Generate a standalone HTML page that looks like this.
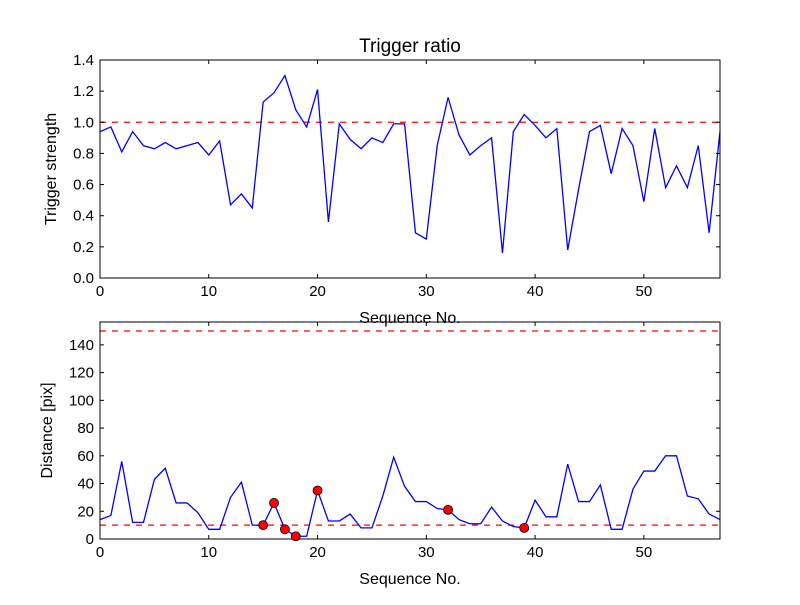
<!DOCTYPE html>
<html><head><meta charset="utf-8"><style>
body{margin:0;background:#fff;}
svg{font-family:"Liberation Sans",sans-serif;}
</style></head><body>
<svg id="c" width="800" height="600" viewBox="0 0 800 600">
<rect width="800" height="600" fill="#fff"/>
</svg>
<script>
const seq = Array.from({length:58},(_,i)=>i);
const triggerRatio=[0.94,0.97,0.81,0.94,0.85,0.83,0.87,0.83,0.85,0.87,0.79,0.88,0.47,0.54,0.45,1.13,1.19,1.30,1.08,0.97,1.21,0.36,0.99,0.89,0.83,0.90,0.87,0.99,0.99,0.29,0.25,0.85,1.16,0.92,0.79,0.85,0.90,0.16,0.94,1.05,0.98,0.90,0.96,0.18,0.57,0.94,0.98,0.67,0.96,0.85,0.49,0.96,0.58,0.72,0.58,0.85,0.29,0.94];
const distance=[14,17,56,12,12,43,51,26,26,19,7,7,30,41,10,10,26,7,2,2,35,13,13,18,8,8,31,59,38,27,27,22,21,14,11,11,23,13,9,8,28,16,16,54,27,27,39,7,7,36,49,49,60,60,31,29,18,14];
const flaggedX=[15,16,17,18,20,32,39];
const flaggedY=[10,26,7,2,35,21,8];
const topTicks=[0,0.2,0.4,0.6,0.8,1.0,1.2,1.4];
const botTicks=[0,20,40,60,80,100,120,140];
const xTicks=[0,10,20,30,40,50];
const NS="http://www.w3.org/2000/svg";
const svg=document.getElementById('c');
function mk(t,a,p){const e=document.createElementNS(NS,t);for(const k in a)e.setAttribute(k,a[k]);(p||svg).appendChild(e);return e;}
const L=100,R=720;
const xs=v=>L+(v-0)/57*(R-L);
function panel(top,bot,ymax,ticks,fmt,data,thr,ylabel,name,title){
  const ys=v=>bot-v/ymax*(bot-top);
  const g=mk('g',{});
  
  
  thr.forEach(t=>{const l=mk('line',{x1:L,x2:R,y1:ys(t),y2:ys(t),stroke:'#f00','stroke-width':1.2,'stroke-dasharray':'6,6'},g);
    });
  const p=mk('polyline',{points:data.map((v,i)=>xs(seq[i])+','+ys(v)).join(' '),fill:'none',stroke:'#00f','stroke-width':1.3},g);
  
  mk('rect',{x:L,y:top,width:R-L,height:bot-top,fill:'none',stroke:'#000','stroke-width':1},g);
  ticks.forEach(t=>{const y=ys(t);
    mk('line',{x1:L,x2:L+4,y1:y,y2:y,stroke:'#000'},g);mk('line',{x1:R,x2:R-4,y1:y,y2:y,stroke:'#000'},g);
    const tx=mk('text',{x:L-6,y:y+5,'text-anchor':'end','font-size':15},g);tx.textContent=fmt(t);
    });
  xTicks.forEach(t=>{const x=xs(t);
    mk('line',{x1:x,x2:x,y1:bot,y2:bot-4,stroke:'#000'},g);mk('line',{x1:x,x2:x,y1:top,y2:top+4,stroke:'#000'},g);
    const tx=mk('text',{x:x,y:bot+18,'text-anchor':'middle','font-size':15},g);tx.textContent=t;
    });
  const xl=mk('text',{x:(L+R)/2,y:bot+45,'text-anchor':'middle','font-size':16},g);xl.textContent='Sequence No.';
  
  const yl=mk('text',{x:0,y:0,'text-anchor':'middle','font-size':16,transform:`translate(${name==='trigger-panel'?56:52},${(top+bot)/2}) rotate(-90)`},g);yl.textContent=ylabel;
  
  if(title){const tt=mk('text',{x:(L+R)/2,y:top-8,'text-anchor':'middle','font-size':19},g);tt.textContent=title;
    }
  return ys;
}
panel(60,278,1.4,topTicks,v=>v.toFixed(1),triggerRatio,[1.0],'Trigger strength','trigger-panel','Trigger ratio');
const ys2=panel(322,539,156.5,botTicks,v=>String(v),distance,[10,150],'Distance [pix]','distance-panel',null);
flaggedX.forEach((x,i)=>{const c=mk('circle',{cx:xs(x),cy:ys2(flaggedY[i]),r:4.5,fill:'#f00',stroke:'#000','stroke-width':0.8});
  
  });
</script>
</body></html>
